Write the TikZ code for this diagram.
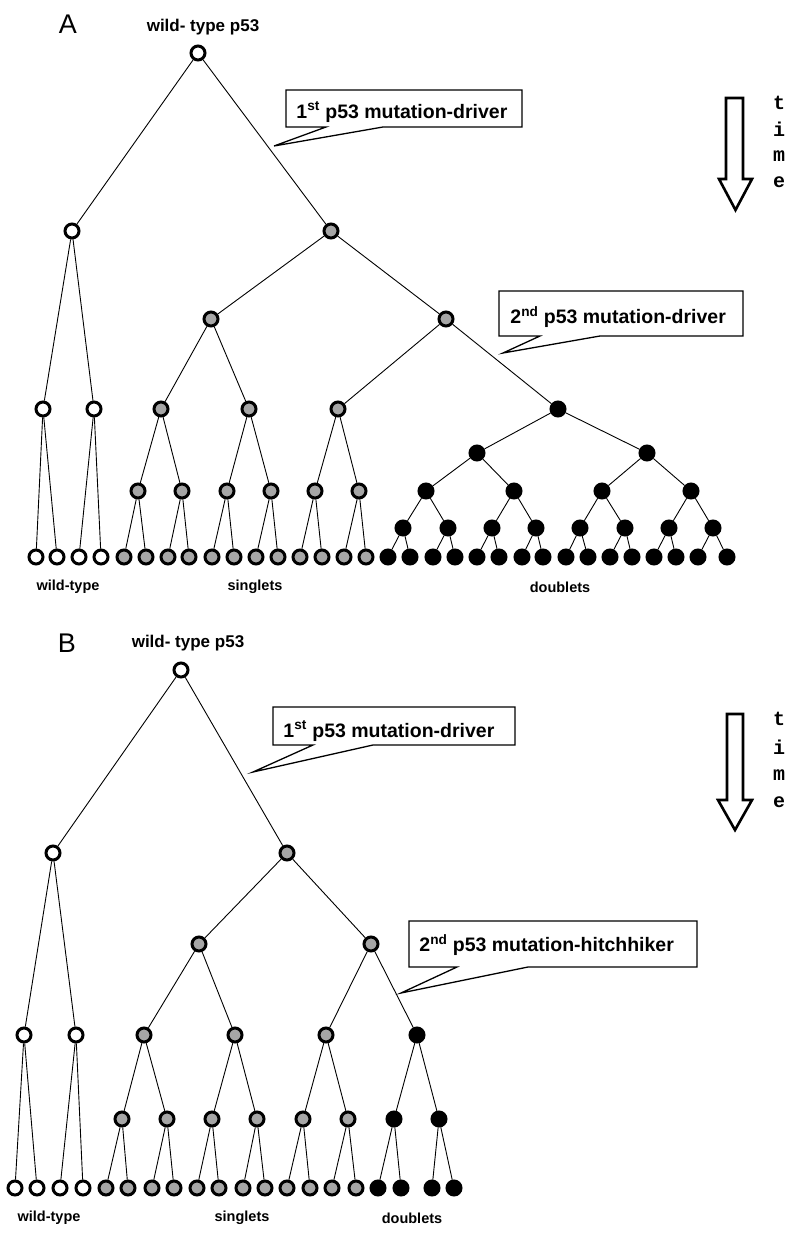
\documentclass[tikz,border=0pt]{standalone}
\usepackage{fontspec}
\setmainfont{Liberation Sans}
\newfontfamily\monofam{Liberation Mono}
\usepackage{tikz}

\tikzset{
  wt/.style={circle,draw,line width=3pt,minimum size=14pt,inner sep=0pt,fill=white},
  mu/.style={wt,fill=gray!70},
  db/.style={wt,fill=black},
  toplbl/.style={font=\fontsize{17}{20}\selectfont\bfseries},
  lbl/.style={font=\fontsize{14.5}{17}\selectfont\bfseries},
  panel/.style={font=\fontsize{27}{30}\selectfont},
  call/.style={anchor=west,inner sep=0pt,font=\fontsize{19.5}{23}\selectfont\bfseries},
  callbox/.style={line width=1.3pt,line join=miter},
  tm/.style={font=\fontsize{20}{22}\selectfont\monofam\bfseries},
  timearrow/.style={line width=2.6pt,line join=miter}
}

\begin{document}
\begin{tikzpicture}[x=1pt,y=-1pt,line width=0.9pt]
\useasboundingbox (0,0) rectangle (796,1233);

% ---------------- panel A
\node[panel] (pA) at (68,24) {A};
\node[toplbl] (topA) at (203,27) {wild- type p53};

\node[wt] (a) at (198,53) {};
\node[wt] (a1) at (72,231) {};
\node[mu] (a2) at (331,231) {};
\node[wt] (aw1) at (43,409) {};
\node[wt] (aw2) at (94,409) {};
\node[mu] (as1) at (211,319) {};
\node[mu] (as2) at (446,319) {};
\node[mu] (ag1) at (161,409) {};
\node[mu] (ag2) at (249,409) {};
\node[mu] (ag3) at (338,409) {};
\node[db] (ad) at (558,409) {};
\foreach \x [count=\i] in {138,182,227,271,315,359}
  \node[mu] (ah\i) at (\x,491) {};
\foreach \x [count=\i] in {477,647}
  \node[db] (ae\i) at (\x,453) {};
\foreach \x [count=\i] in {426,514,602,691}
  \node[db] (af\i) at (\x,491) {};
\foreach \x [count=\i] in {403,448,492,536,580,625,669,713}
  \node[db] (ak\i) at (\x,528) {};
\foreach \x [count=\i] in {36,57,79,101}
  \node[wt] (alw\i) at (\x,557) {};
\foreach \x [count=\i] in {124,146,168,189,212,234,256,278,300,322,344,366}
  \node[mu] (alg\i) at (\x,557) {};
\foreach \x [count=\i] in {388,410,433,455,477,499,522,543,566,588,610,632,654,676,698,727}
  \node[db] (alb\i) at (\x,557) {};

\foreach \p/\c in {a/a1,a/a2,a1/aw1,a1/aw2,a2/as1,a2/as2,as1/ag1,as1/ag2,as2/ag3,as2/ad,
    aw1/alw1,aw1/alw2,aw2/alw3,aw2/alw4,ag1/ah1,ag1/ah2,ag2/ah3,ag2/ah4,ag3/ah5,ag3/ah6,
    ad/ae1,ad/ae2,ae1/af1,ae1/af2,ae2/af3,ae2/af4}
  \draw (\p) -- (\c);
\foreach \i in {1,...,6}{
  \pgfmathtruncatemacro{\j}{2*\i-1}\pgfmathtruncatemacro{\k}{2*\i}
  \draw (ah\i) -- (alg\j); \draw (ah\i) -- (alg\k);
}
\foreach \i in {1,...,4}{
  \pgfmathtruncatemacro{\j}{2*\i-1}\pgfmathtruncatemacro{\k}{2*\i}
  \draw (af\i) -- (ak\j); \draw (af\i) -- (ak\k);
}
\foreach \i in {1,...,8}{
  \pgfmathtruncatemacro{\j}{2*\i-1}\pgfmathtruncatemacro{\k}{2*\i}
  \draw (ak\i) -- (alb\j); \draw (ak\i) -- (alb\k);
}

\node[lbl] (wtA) at (68,587) {wild-type};
\node[lbl] (sgA) at (255,587) {singlets};
\node[lbl] (dbA) at (560,587) {doublets};

% callouts A
\coordinate (ptA1) at (274,146);
\draw[callbox] (286,90) -- (522,90) -- (522,127) -- (383,127) -- (ptA1) -- (326,127) -- (286,127) -- cycle;
\node[call] (cA1) at (296,112) {1\textsuperscript{st} p53 mutation-driver};
\coordinate (ptA2) at (503,353);
\draw[callbox] (499,291) -- (743,291) -- (743,336) -- (600,336) -- (ptA2) -- (540,336) -- (499,336) -- cycle;
\node[call] (cA2) at (510,317) {2\textsuperscript{nd} p53 mutation-driver};

% time A
\draw[timearrow] (726,98) -- (743,98) -- (743,179) -- (752,179) -- (735.5,210) -- (719,179) -- (726,179) -- cycle;
\foreach \c/\y in {t/103,i/129,m/156,e/182}
  \node[tm] (tA\c) at (779,\y) {\c};

% ---------------- panel B
\node[panel] (pB) at (67,643) {B};
\node[toplbl] (topB) at (188,643) {wild- type p53};

\node[wt] (b) at (181,670) {};
\node[wt] (b1) at (53,853) {};
\node[mu] (b2) at (287,853) {};
\node[wt] (bw1) at (24,1035) {};
\node[wt] (bw2) at (76,1035) {};
\node[mu] (bs1) at (199,944) {};
\node[mu] (bs2) at (371,944) {};
\node[mu] (bg1) at (144,1035) {};
\node[mu] (bg2) at (235,1035) {};
\node[mu] (bg3) at (326,1035) {};
\node[db] (bd) at (417,1035) {};
\foreach \x [count=\i] in {122,167,212,257,303,348}
  \node[mu] (bh\i) at (\x,1119) {};
\foreach \x [count=\i] in {394,439}
  \node[db] (bk\i) at (\x,1119) {};
\foreach \x [count=\i] in {15,37,60,83}
  \node[wt] (blw\i) at (\x,1188) {};
\foreach \x [count=\i] in {106,128,152,174,197,219,243,265,287,310,332,356}
  \node[mu] (blg\i) at (\x,1188) {};
\foreach \x [count=\i] in {378,401,432,454}
  \node[db] (blb\i) at (\x,1188) {};

\foreach \p/\c in {b/b1,b/b2,b1/bw1,b1/bw2,b2/bs1,b2/bs2,bs1/bg1,bs1/bg2,bs2/bg3,bs2/bd,
    bw1/blw1,bw1/blw2,bw2/blw3,bw2/blw4,bg1/bh1,bg1/bh2,bg2/bh3,bg2/bh4,bg3/bh5,bg3/bh6,
    bd/bk1,bd/bk2}
  \draw (\p) -- (\c);
\foreach \i in {1,...,6}{
  \pgfmathtruncatemacro{\j}{2*\i-1}\pgfmathtruncatemacro{\k}{2*\i}
  \draw (bh\i) -- (blg\j); \draw (bh\i) -- (blg\k);
}
\foreach \i in {1,2}{
  \pgfmathtruncatemacro{\j}{2*\i-1}\pgfmathtruncatemacro{\k}{2*\i}
  \draw (bk\i) -- (blb\j); \draw (bk\i) -- (blb\k);
}

\node[lbl] (wtB) at (49,1218) {wild-type};
\node[lbl] (sgB) at (242,1218) {singlets};
\node[lbl] (dbB) at (412,1218) {doublets};

% callouts B
\coordinate (ptB1) at (253,772);
\draw[callbox] (273,707) -- (515,707) -- (515,745) -- (373,745) -- (ptB1) -- (313,745) -- (273,745) -- cycle;
\node[call] (cB1) at (283,731) {1\textsuperscript{st} p53 mutation-driver};
\coordinate (ptB2) at (401,993);
\draw[callbox] (409,921) -- (697,921) -- (697,967) -- (528,967) -- (ptB2) -- (457,967) -- (409,967) -- cycle;
\node[call] (cB2) at (419,945) {2\textsuperscript{nd} p53 mutation-hitchhiker};

% time B
\draw[timearrow] (727,714) -- (743,714) -- (743,800) -- (752,800) -- (735,830) -- (718,800) -- (727,800) -- cycle;
\foreach \c/\y in {t/719,i/747,m/775,e/802}
  \node[tm] (tB\c) at (779,\y) {\c};
\end{tikzpicture}
\end{document}
